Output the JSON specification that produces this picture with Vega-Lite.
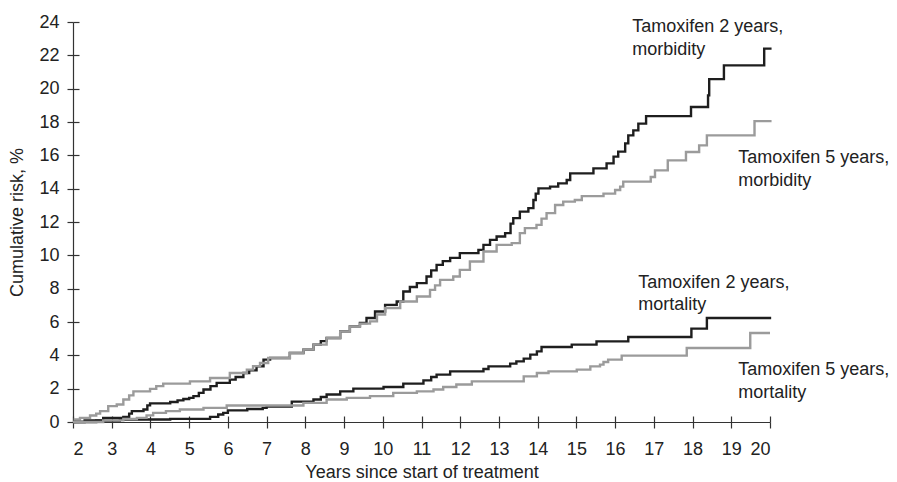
{
  "$schema": "https://vega.github.io/schema/vega-lite/v6.json",
  "width": 697,
  "height": 400,
  "autosize": "none",
  "padding": {"left": 73, "top": 22, "right": 127, "bottom": 60},
  "background": "white",
  "config": {
    "view": {"stroke": null},
    "font": "Liberation Sans",
    "axis": {"grid": false, "domainColor": "#333333", "tickColor": "#333333", "labelColor": "#222222", "titleColor": "#222222", "labelFont": "Liberation Sans", "titleFont": "Liberation Sans", "labelFontSize": 18, "titleFontSize": 18, "titleFontWeight": "normal", "domainWidth": 1.2, "tickWidth": 1.2}
  },
  "datasets": {
    "curves": [
      {"series": "M2", "year": 2.0, "risk": 0.0},
      {"series": "M2", "year": 2.3, "risk": 0.1},
      {"series": "M2", "year": 2.78, "risk": 0.25},
      {"series": "M2", "year": 3.3, "risk": 0.31},
      {"series": "M2", "year": 3.45, "risk": 0.5},
      {"series": "M2", "year": 3.52, "risk": 0.65},
      {"series": "M2", "year": 3.82, "risk": 0.75},
      {"series": "M2", "year": 3.92, "risk": 1.0},
      {"series": "M2", "year": 3.99, "risk": 1.12},
      {"series": "M2", "year": 4.51, "risk": 1.2},
      {"series": "M2", "year": 4.7, "risk": 1.3},
      {"series": "M2", "year": 4.85, "risk": 1.38},
      {"series": "M2", "year": 5.0, "risk": 1.45},
      {"series": "M2", "year": 5.11, "risk": 1.55},
      {"series": "M2", "year": 5.25, "risk": 1.75},
      {"series": "M2", "year": 5.37, "risk": 1.95},
      {"series": "M2", "year": 5.55, "risk": 2.15},
      {"series": "M2", "year": 5.71, "risk": 2.35},
      {"series": "M2", "year": 6.05, "risk": 2.54},
      {"series": "M2", "year": 6.2, "risk": 2.7},
      {"series": "M2", "year": 6.4, "risk": 2.94},
      {"series": "M2", "year": 6.55, "risk": 3.1},
      {"series": "M2", "year": 6.74, "risk": 3.34},
      {"series": "M2", "year": 6.92, "risk": 3.74},
      {"series": "M2", "year": 7.09, "risk": 3.84},
      {"series": "M2", "year": 7.6, "risk": 4.14},
      {"series": "M2", "year": 7.95, "risk": 4.34},
      {"series": "M2", "year": 8.21, "risk": 4.64},
      {"series": "M2", "year": 8.4, "risk": 4.85},
      {"series": "M2", "year": 8.55, "risk": 5.04},
      {"series": "M2", "year": 8.9, "risk": 5.44},
      {"series": "M2", "year": 9.15, "risk": 5.74},
      {"series": "M2", "year": 9.41, "risk": 5.94},
      {"series": "M2", "year": 9.58, "risk": 6.24},
      {"series": "M2", "year": 9.8, "risk": 6.63},
      {"series": "M2", "year": 10.06, "risk": 7.03},
      {"series": "M2", "year": 10.36, "risk": 7.23},
      {"series": "M2", "year": 10.53, "risk": 7.83},
      {"series": "M2", "year": 10.7, "risk": 8.1},
      {"series": "M2", "year": 10.88, "risk": 8.33},
      {"series": "M2", "year": 11.13, "risk": 8.73},
      {"series": "M2", "year": 11.25, "risk": 9.1},
      {"series": "M2", "year": 11.39, "risk": 9.43},
      {"series": "M2", "year": 11.55, "risk": 9.65},
      {"series": "M2", "year": 11.74, "risk": 9.85},
      {"series": "M2", "year": 11.99, "risk": 10.13},
      {"series": "M2", "year": 12.47, "risk": 10.33},
      {"series": "M2", "year": 12.6, "risk": 10.63},
      {"series": "M2", "year": 12.77, "risk": 10.93},
      {"series": "M2", "year": 12.94, "risk": 11.13},
      {"series": "M2", "year": 13.16, "risk": 11.33},
      {"series": "M2", "year": 13.3, "risk": 11.9},
      {"series": "M2", "year": 13.37, "risk": 12.23},
      {"series": "M2", "year": 13.54, "risk": 12.62},
      {"series": "M2", "year": 13.76, "risk": 12.83},
      {"series": "M2", "year": 13.89, "risk": 13.32},
      {"series": "M2", "year": 13.95, "risk": 13.7},
      {"series": "M2", "year": 14.02, "risk": 14.02},
      {"series": "M2", "year": 14.32, "risk": 14.12},
      {"series": "M2", "year": 14.53, "risk": 14.32},
      {"series": "M2", "year": 14.75, "risk": 14.52},
      {"series": "M2", "year": 14.84, "risk": 14.92},
      {"series": "M2", "year": 15.44, "risk": 15.22},
      {"series": "M2", "year": 15.78, "risk": 15.52},
      {"series": "M2", "year": 15.96, "risk": 15.92},
      {"series": "M2", "year": 16.08, "risk": 16.22},
      {"series": "M2", "year": 16.26, "risk": 16.72},
      {"series": "M2", "year": 16.34, "risk": 17.2},
      {"series": "M2", "year": 16.47, "risk": 17.5},
      {"series": "M2", "year": 16.6, "risk": 17.9},
      {"series": "M2", "year": 16.8, "risk": 18.35},
      {"series": "M2", "year": 17.96, "risk": 18.9},
      {"series": "M2", "year": 18.4, "risk": 19.6},
      {"series": "M2", "year": 18.43, "risk": 20.57},
      {"series": "M2", "year": 18.81, "risk": 21.4},
      {"series": "M2", "year": 19.85, "risk": 22.4},
      {"series": "M2", "year": 20.04, "risk": 22.4},

      {"series": "M5", "year": 2.0, "risk": 0.0},
      {"series": "M5", "year": 2.05, "risk": 0.15},
      {"series": "M5", "year": 2.18, "risk": 0.25},
      {"series": "M5", "year": 2.44, "risk": 0.39},
      {"series": "M5", "year": 2.6, "risk": 0.5},
      {"series": "M5", "year": 2.7, "risk": 0.65},
      {"series": "M5", "year": 2.91, "risk": 0.95},
      {"series": "M5", "year": 3.13, "risk": 1.05},
      {"series": "M5", "year": 3.3, "risk": 1.35},
      {"series": "M5", "year": 3.45, "risk": 1.6},
      {"series": "M5", "year": 3.56, "risk": 1.84},
      {"series": "M5", "year": 3.99, "risk": 1.99},
      {"series": "M5", "year": 4.15, "risk": 2.15},
      {"series": "M5", "year": 4.33, "risk": 2.3},
      {"series": "M5", "year": 5.02, "risk": 2.44},
      {"series": "M5", "year": 5.54, "risk": 2.64},
      {"series": "M5", "year": 6.05, "risk": 2.94},
      {"series": "M5", "year": 6.49, "risk": 3.14},
      {"series": "M5", "year": 6.65, "risk": 3.35},
      {"series": "M5", "year": 6.83, "risk": 3.54},
      {"series": "M5", "year": 7.04, "risk": 3.84},
      {"series": "M5", "year": 7.6, "risk": 4.14},
      {"series": "M5", "year": 7.95, "risk": 4.34},
      {"series": "M5", "year": 8.21, "risk": 4.64},
      {"series": "M5", "year": 8.55, "risk": 5.04},
      {"series": "M5", "year": 8.9, "risk": 5.44},
      {"series": "M5", "year": 9.15, "risk": 5.74},
      {"series": "M5", "year": 9.41, "risk": 5.9},
      {"series": "M5", "year": 9.67, "risk": 6.04},
      {"series": "M5", "year": 9.85, "risk": 6.45},
      {"series": "M5", "year": 10.06, "risk": 6.84},
      {"series": "M5", "year": 10.45, "risk": 7.23},
      {"series": "M5", "year": 10.88, "risk": 7.53},
      {"series": "M5", "year": 11.22, "risk": 7.93},
      {"series": "M5", "year": 11.35, "risk": 8.2},
      {"series": "M5", "year": 11.48, "risk": 8.53},
      {"series": "M5", "year": 11.82, "risk": 8.73},
      {"series": "M5", "year": 11.99, "risk": 9.13},
      {"series": "M5", "year": 12.25, "risk": 9.63},
      {"series": "M5", "year": 12.6, "risk": 10.23},
      {"series": "M5", "year": 12.94, "risk": 10.63},
      {"series": "M5", "year": 13.33, "risk": 10.73},
      {"series": "M5", "year": 13.54, "risk": 11.33},
      {"series": "M5", "year": 13.67, "risk": 11.63},
      {"series": "M5", "year": 13.97, "risk": 11.83},
      {"series": "M5", "year": 14.1, "risk": 12.2},
      {"series": "M5", "year": 14.23, "risk": 12.53},
      {"series": "M5", "year": 14.45, "risk": 13.02},
      {"series": "M5", "year": 14.66, "risk": 13.22},
      {"series": "M5", "year": 14.96, "risk": 13.32},
      {"series": "M5", "year": 15.14, "risk": 13.55},
      {"series": "M5", "year": 15.7, "risk": 13.7},
      {"series": "M5", "year": 16.0, "risk": 13.92},
      {"series": "M5", "year": 16.13, "risk": 14.12},
      {"series": "M5", "year": 16.21, "risk": 14.42},
      {"series": "M5", "year": 16.92, "risk": 14.7},
      {"series": "M5", "year": 17.03, "risk": 15.1},
      {"series": "M5", "year": 17.36, "risk": 15.7},
      {"series": "M5", "year": 17.83, "risk": 16.2},
      {"series": "M5", "year": 18.17, "risk": 16.6},
      {"series": "M5", "year": 18.37, "risk": 17.2},
      {"series": "M5", "year": 19.6, "risk": 18.05},
      {"series": "M5", "year": 20.04, "risk": 18.05},

      {"series": "D2", "year": 2.0, "risk": 0.0},
      {"series": "D2", "year": 2.6, "risk": 0.08},
      {"series": "D2", "year": 3.21, "risk": 0.15},
      {"series": "D2", "year": 4.51, "risk": 0.19},
      {"series": "D2", "year": 5.54, "risk": 0.31},
      {"series": "D2", "year": 5.75, "risk": 0.45},
      {"series": "D2", "year": 5.88, "risk": 0.55},
      {"series": "D2", "year": 6.0, "risk": 0.7},
      {"series": "D2", "year": 6.5, "risk": 0.78},
      {"series": "D2", "year": 6.9, "risk": 0.85},
      {"series": "D2", "year": 7.0, "risk": 0.92},
      {"series": "D2", "year": 7.65, "risk": 1.22},
      {"series": "D2", "year": 8.21, "risk": 1.35},
      {"series": "D2", "year": 8.4, "risk": 1.5},
      {"series": "D2", "year": 8.55, "risk": 1.65},
      {"series": "D2", "year": 8.9, "risk": 1.84},
      {"series": "D2", "year": 9.24, "risk": 2.0},
      {"series": "D2", "year": 10.02, "risk": 2.1},
      {"series": "D2", "year": 10.53, "risk": 2.3},
      {"series": "D2", "year": 11.05, "risk": 2.5},
      {"series": "D2", "year": 11.25, "risk": 2.7},
      {"series": "D2", "year": 11.39, "risk": 2.84},
      {"series": "D2", "year": 11.74, "risk": 3.04},
      {"series": "D2", "year": 12.6, "risk": 3.18},
      {"series": "D2", "year": 12.73, "risk": 3.34},
      {"series": "D2", "year": 13.29, "risk": 3.5},
      {"series": "D2", "year": 13.45, "risk": 3.64},
      {"series": "D2", "year": 13.64, "risk": 3.8},
      {"series": "D2", "year": 13.81, "risk": 4.04},
      {"series": "D2", "year": 13.98, "risk": 4.24},
      {"series": "D2", "year": 14.1, "risk": 4.5},
      {"series": "D2", "year": 14.88, "risk": 4.64},
      {"series": "D2", "year": 15.52, "risk": 4.84},
      {"series": "D2", "year": 16.34, "risk": 5.1},
      {"series": "D2", "year": 17.97, "risk": 5.6},
      {"series": "D2", "year": 18.37, "risk": 6.24},
      {"series": "D2", "year": 20.03, "risk": 6.24},

      {"series": "D5", "year": 2.0, "risk": 0.0},
      {"series": "D5", "year": 2.78, "risk": 0.1},
      {"series": "D5", "year": 3.3, "risk": 0.18},
      {"series": "D5", "year": 3.65, "risk": 0.25},
      {"series": "D5", "year": 3.9, "risk": 0.4},
      {"series": "D5", "year": 4.07, "risk": 0.55},
      {"series": "D5", "year": 4.4, "risk": 0.65},
      {"series": "D5", "year": 4.76, "risk": 0.75},
      {"series": "D5", "year": 5.37, "risk": 0.85},
      {"series": "D5", "year": 5.97, "risk": 0.99},
      {"series": "D5", "year": 7.95, "risk": 1.15},
      {"series": "D5", "year": 8.55, "risk": 1.35},
      {"series": "D5", "year": 9.07, "risk": 1.45},
      {"series": "D5", "year": 9.67, "risk": 1.55},
      {"series": "D5", "year": 10.27, "risk": 1.75},
      {"series": "D5", "year": 10.88, "risk": 1.84},
      {"series": "D5", "year": 11.31, "risk": 1.95},
      {"series": "D5", "year": 11.56, "risk": 2.1},
      {"series": "D5", "year": 11.9, "risk": 2.25},
      {"series": "D5", "year": 12.3, "risk": 2.44},
      {"series": "D5", "year": 13.64, "risk": 2.74},
      {"series": "D5", "year": 13.98, "risk": 2.94},
      {"series": "D5", "year": 14.28, "risk": 3.04},
      {"series": "D5", "year": 15.01, "risk": 3.14},
      {"series": "D5", "year": 15.36, "risk": 3.34},
      {"series": "D5", "year": 15.61, "risk": 3.44},
      {"series": "D5", "year": 15.7, "risk": 3.6},
      {"series": "D5", "year": 15.82, "risk": 3.74},
      {"series": "D5", "year": 16.17, "risk": 3.98},
      {"series": "D5", "year": 17.85, "risk": 4.44},
      {"series": "D5", "year": 19.49, "risk": 5.34},
      {"series": "D5", "year": 20.0, "risk": 5.34}
    ],
    "labels": [
      {"text": "Tamoxifen 2 years,", "year": 16.44, "risk": 23.7},
      {"text": "morbidity", "year": 16.44, "risk": 22.3},
      {"text": "Tamoxifen 5 years,", "year": 19.18, "risk": 15.84},
      {"text": "morbidity", "year": 19.18, "risk": 14.46},
      {"text": "Tamoxifen 2 years,", "year": 16.6, "risk": 8.34},
      {"text": "mortality", "year": 16.6, "risk": 7.04},
      {"text": "Tamoxifen 5 years,", "year": 19.18, "risk": 3.14},
      {"text": "mortality", "year": 19.18, "risk": 1.75}
    ]
  },
  "resolve": {"axis": {"x": "independent", "y": "independent"}},
  "layer": [
    {
      "data": {"name": "curves"},
      "mark": {"type": "line", "interpolate": "step-after", "strokeWidth": 2.4},
      "encoding": {
        "x": {"field": "year", "type": "quantitative", "scale": {"domain": [2, 20], "nice": false},
              "axis": {"orient": "bottom", "values": [2,3,4,5,6,7,8,9,10,11,12,13,14,15,16,17,18,19,20], "format": "d", "tickSize": 6, "labelPadding": 12, "title": "Years since start of treatment", "titlePadding": 5}},
        "y": {"field": "risk", "type": "quantitative", "scale": {"domain": [0, 24], "nice": false},
              "axis": {"orient": "left", "values": [0,2,4,6,8,10,12,14,16,18,20,22,24], "format": "d", "tickSize": 6, "labelPadding": 8, "title": "Cumulative risk, %", "titlePadding": 12}},
        "color": {"field": "series", "type": "nominal", "scale": {"domain": ["M2", "M5", "D2", "D5"], "range": ["#1e1e1e", "#9b9b9b", "#1e1e1e", "#9b9b9b"]}, "legend": null},
        "order": {"field": "year", "type": "quantitative"}
      }
    },
    {
      "data": {"name": "labels"},
      "mark": {"type": "text", "align": "left", "baseline": "middle", "fontSize": 18, "font": "Liberation Sans", "color": "#222222"},
      "encoding": {
        "x": {"field": "year", "type": "quantitative",
              "axis": {"orient": "top", "offset": -400, "values": [2,3,4,5,6,7,8,9,10,11,12,13,14,15,16,17,18,19,20], "labels": false, "domain": false, "tickSize": 6, "title": null}},
        "y": {"field": "risk", "type": "quantitative",
              "axis": {"orient": "right", "offset": -697, "values": [0,2,4,6,8,10,12,14,16,18,20,22,24], "labels": false, "domain": false, "tickSize": 6, "title": null}},
        "text": {"field": "text", "type": "nominal"}
      }
    }
  ]
}
